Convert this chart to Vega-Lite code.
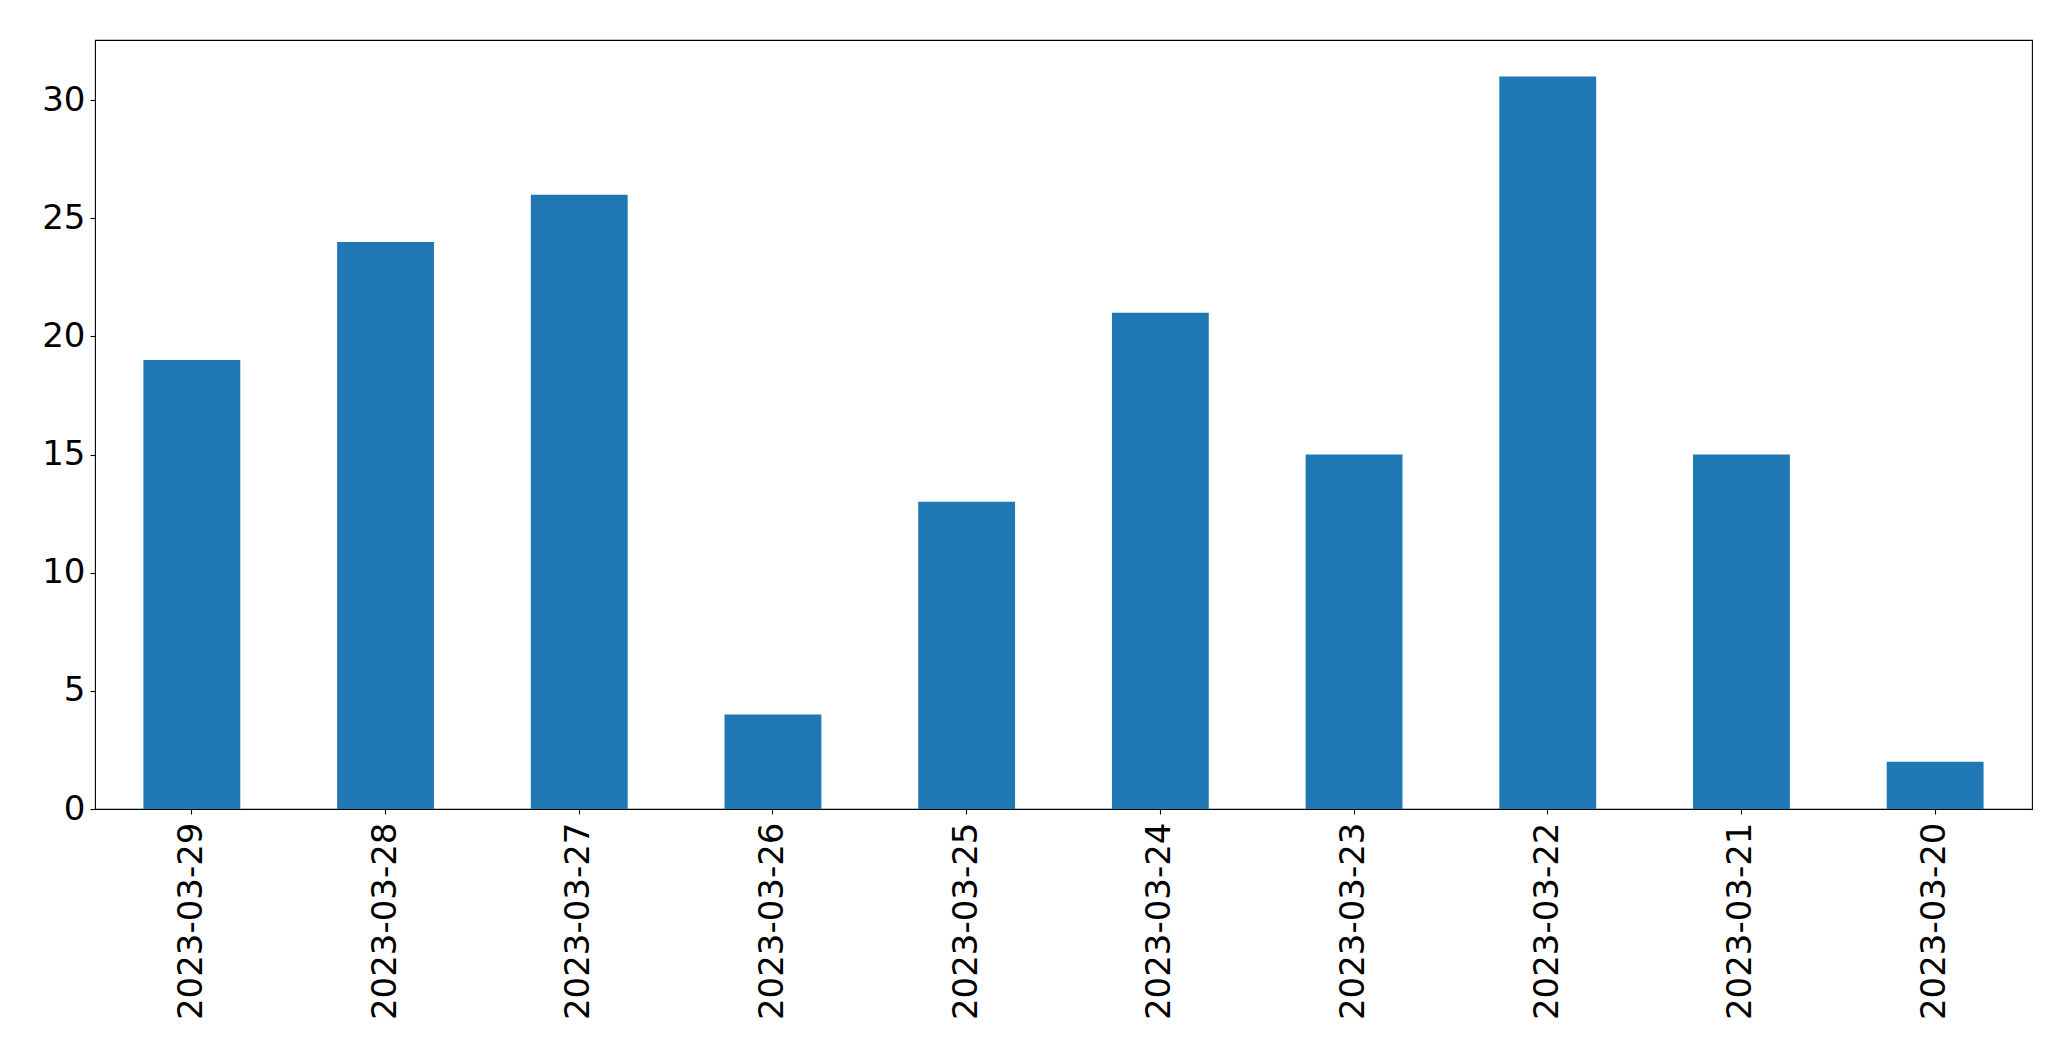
{
  "$schema": "https://vega.github.io/schema/vega-lite/v6.json",
  "autosize": "none",
  "width": 1937,
  "height": 769,
  "padding": {"left": 95, "top": 40, "right": 39, "bottom": 252},
  "background": "white",
  "config": {
    "view": {"stroke": "black", "strokeWidth": 1.1},
    "axis": {
      "labelFont": "DejaVu Sans",
      "labelFontSize": 34,
      "labelColor": "black",
      "labelLimit": 0,
      "tickColor": "black",
      "tickSize": 5,
      "tickWidth": 1.1,
      "domain": false,
      "grid": false,
      "labelPadding": 5,
      "title": null
    }
  },
  "data": {
    "values": [
      {"date": "2023-03-29", "count": 19},
      {"date": "2023-03-28", "count": 24},
      {"date": "2023-03-27", "count": 26},
      {"date": "2023-03-26", "count": 4},
      {"date": "2023-03-25", "count": 13},
      {"date": "2023-03-24", "count": 21},
      {"date": "2023-03-23", "count": 15},
      {"date": "2023-03-22", "count": 31},
      {"date": "2023-03-21", "count": 15},
      {"date": "2023-03-20", "count": 2}
    ]
  },
  "mark": {"type": "bar", "color": "#1f77b4"},
  "encoding": {
    "x": {
      "field": "date",
      "type": "nominal",
      "sort": null,
      "scale": {"paddingInner": 0.5, "paddingOuter": 0.25},
      "axis": {"labelAngle": -90, "labelAlign": "right", "labelBaseline": "middle", "labelPadding": 8}
    },
    "y": {
      "field": "count",
      "type": "quantitative",
      "scale": {"domain": [0, 32.55], "nice": false, "zero": true},
      "axis": {"values": [0, 5, 10, 15, 20, 25, 30]}
    }
  }
}
